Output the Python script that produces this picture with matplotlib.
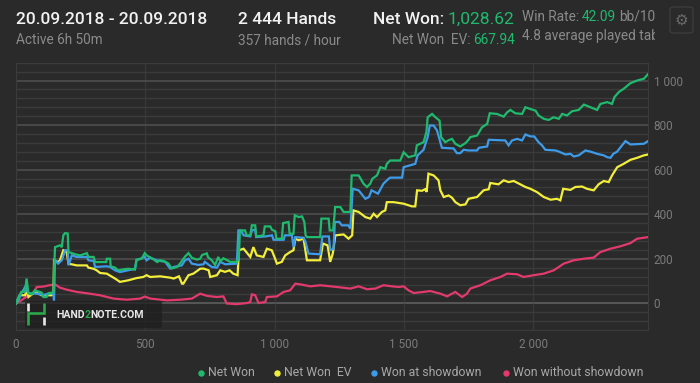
import matplotlib.pyplot as plt
from matplotlib.lines import Line2D
from matplotlib.patches import FancyBboxPatch, Rectangle
from matplotlib.ticker import FuncFormatter, MultipleLocator

# ---- data (hand number, cumulative $) ----
net_won_hands = [0, 10, 20, 35, 41, 48, 60, 73, 99, 106, 118, 125, 138, 145, 147, 151, 170, 177, 183, 190,
                 200, 203, 216, 229, 248, 261, 274, 280, 300, 306, 349, 351, 364, 366, 383, 395, 410, 434, 460,
                 466, 486, 498, 505, 533, 546, 557, 571, 589, 602, 623, 635, 654, 667, 680, 700, 712, 720, 738,
                 742, 757, 770, 782, 790, 802, 828, 855, 862, 866, 886, 892, 906, 912, 925, 929, 957, 962, 983,
                 990, 1003, 1007, 1028, 1033, 1054, 1058, 1073, 1078, 1093, 1106, 1115, 1120, 1125, 1176, 1181,
                 1209, 1213, 1226, 1231, 1234, 1254, 1267, 1293, 1298, 1325, 1344, 1357, 1370, 1378, 1396, 1409,
                 1428, 1434, 1447, 1486, 1499, 1518, 1544, 1550, 1576, 1587, 1592, 1609, 1622, 1638, 1644, 1660,
                 1673, 1686, 1699, 1718, 1738, 1750, 1757, 1783, 1802, 1822, 1832, 1860, 1886, 1899, 1912, 1931,
                 1957, 1970, 1989, 2009, 2021, 2041, 2060, 2079, 2099, 2112, 2131, 2150, 2176, 2196, 2221, 2247,
                 2260, 2286, 2305, 2314, 2331, 2350, 2376, 2402, 2428, 2444]
net_won = [0, 28, 51, 52, 111, 45, 40, 58, 48, 28, 28, 45, 48, 48, 148, 252, 260, 252, 305, 315,
           313, 230, 225, 220, 215, 220, 225, 208, 208, 185, 185, 200, 200, 166, 160, 148, 151, 155, 151,
           196, 200, 225, 215, 196, 185, 193, 190, 179, 156, 163, 179, 210, 225, 204, 196, 200, 217, 224,
           208, 193, 172, 208, 188, 202, 186, 186, 208, 327, 327, 305, 305, 350, 350, 300, 305, 345, 345,
           330, 323, 290, 290, 360, 365, 312, 312, 395, 387, 390, 365, 305, 297, 297, 380,
           380, 327, 327, 387, 432, 432, 410, 410, 574, 574, 537, 522, 537, 559, 574, 611,
           604, 626, 641, 641, 678, 656, 664, 709, 723, 768, 835, 850, 835, 820, 746, 723,
           732, 738, 716, 704, 719, 734, 746, 753, 790, 805, 853, 850, 838, 857, 868, 853,
           850, 880, 872, 865, 843, 828, 823, 835, 828, 850, 843, 862, 868, 892, 880, 868,
           895, 903, 895, 925, 948, 963, 988, 1000, 1008, 1028.62]

net_won_ev_hands = [0, 15, 35, 41, 48, 67, 80, 99, 138, 145, 147, 163, 170, 183, 196, 203, 235, 274, 280,
                    300, 312, 325, 351, 383, 402, 434, 466, 492, 505, 519, 557, 596, 610, 630, 642, 647, 667,
                    686, 712, 725, 745, 751, 777, 790, 808, 826, 840, 857, 862, 880, 906, 918, 931, 957, 970,
                    989, 1002, 1009, 1028, 1041, 1060, 1073, 1080, 1093, 1112, 1125, 1176, 1187, 1205, 1215,
                    1225, 1235, 1267, 1286, 1300, 1305, 1325, 1351, 1370, 1383, 1396, 1415, 1428, 1434, 1460,
                    1499, 1518, 1531, 1544, 1551, 1570, 1582, 1588, 1595, 1615, 1634, 1641, 1654, 1673, 1686,
                    1699, 1718, 1738, 1750, 1783, 1808, 1828, 1834, 1866, 1886, 1905, 1925, 1950, 1970, 1989,
                    2015, 2041, 2067, 2092, 2105, 2116, 2144, 2163, 2189, 2208, 2234, 2253, 2273, 2292, 2305,
                    2325, 2350, 2376, 2402, 2428, 2444]
net_won_ev = [0, 36, 36, 58, 28, 45, 48, 36, 36, 45, 193, 185, 193, 238, 230, 178, 170, 170, 160,
              155, 148, 136, 133, 111, 96, 103, 113, 118, 126, 118, 121, 115, 111, 121, 88, 88, 126,
              133, 155, 156, 148, 118, 126, 148, 141, 148, 133, 126, 238, 245, 208, 252, 215, 208, 245,
              238, 200, 178, 186, 215, 230, 238, 290, 283, 290, 193, 193, 268, 260, 186,
              223, 305, 309, 290, 305, 417, 410, 387, 380, 402, 387, 410, 417, 454, 454,
              447, 440, 435, 435, 507, 505, 512, 500, 582, 574, 552, 507, 477, 484, 474,
              454, 440, 444, 469, 477, 507, 512, 540, 534, 552, 544, 549, 534, 522, 514,
              499, 477, 465, 469, 462, 514, 509, 522, 524, 514, 507, 534, 549, 544, 574,
              611, 626, 644, 653, 664, 667.94]

showdown_hands = [0, 10, 21, 35, 48, 67, 106, 138, 145, 147, 151, 163, 177, 190, 200, 203, 216, 235, 274,
                  280, 300, 306, 351, 364, 383, 402, 460, 466, 498, 505, 519, 544, 577, 596, 610, 641, 654,
                  667, 680, 706, 725, 730, 757, 777, 790, 809, 854, 860, 870, 880, 906, 912, 925, 929, 964,
                  990, 996, 1035, 1040, 1067, 1073, 1080, 1112, 1120, 1131, 1176, 1185, 1210, 1215, 1228,
                  1233, 1250, 1260, 1285, 1293, 1302, 1325, 1351, 1365, 1375, 1400, 1421, 1441, 1447, 1493,
                  1499, 1544, 1553, 1576, 1592, 1600, 1615, 1628, 1641, 1647, 1692, 1705, 1718, 1731, 1750,
                  1783, 1790, 1822, 1828, 1892, 1905, 1918, 1938, 1957, 1970, 1989, 2004, 2021, 2034, 2047,
                  2086, 2099, 2125, 2144, 2157, 2176, 2202, 2221, 2247, 2273, 2286, 2299, 2310, 2325, 2338,
                  2357, 2376, 2428, 2444]
showdown = [0, 15, 45, 73, 45, 45, 38, 45, 40, 13, 193, 178, 193, 238, 238, 170, 215, 208, 208,
            193, 190, 163, 166, 163, 148, 140, 155, 193, 208, 193, 205, 193, 186, 156, 163, 170, 193,
            200, 178, 172, 175, 186, 163, 160, 186, 175, 178, 327, 327, 305, 300, 327, 330, 297, 300,
            305, 285, 285, 305, 305, 252, 297, 294, 275, 223, 220, 300, 300, 238, 245,
            365, 365, 350, 350, 335, 514, 507, 469, 477, 507, 492, 537, 559, 564, 564,
            611, 626, 664, 689, 746, 798, 798, 776, 723, 698, 695, 674, 674, 689, 686,
            686, 698, 704, 734, 731, 709, 731, 738, 731, 758, 749, 749, 723, 709, 689,
            686, 681, 668, 671, 659, 664, 686, 681, 671, 664, 656, 653, 671, 681, 701,
            728, 713, 716, 728]

no_showdown_hands = [0, 20, 48, 67, 80, 106, 125, 151, 170, 196, 235, 274, 325, 377, 428, 480, 498, 520,
                     584, 635, 680, 712, 740, 777, 802, 815, 854, 893, 906, 912, 925, 938, 964, 970, 1009,
                     1035, 1060, 1080, 1099, 1138, 1176, 1241, 1293, 1325, 1357, 1390, 1421, 1454, 1480,
                     1499, 1518, 1538, 1576, 1602, 1641, 1667, 1699, 1725, 1744, 1757, 1796, 1834, 1873,
                     1899, 1938, 1963, 2002, 2041, 2080, 2118, 2157, 2196, 2234, 2260, 2299, 2338, 2376,
                     2402, 2444]
no_showdown = [0, 13, 36, 45, 73, 75, 80, 85, 70, 61, 51, 45, 36, 21, 16, 21, 30, 21,
               13, 16, 21, 43, 33, 28, 31, -1, -4, 1, 6, 40, 36, 1, 6, 28, 31,
               51, 58, 88, 85, 76, 81, 73, 66, 76, 63, 66, 81, 76, 73,
               76, 58, 46, 51, 55, 43, 31, 51, 28, 43, 66, 81, 103, 118,
               133, 130, 118, 126, 133, 148, 178, 193, 200, 205, 230, 245, 256, 270,
               290, 297]

series_names = ["Net Won", "Net Won  EV", "Won at showdown", "Won without showdown"]
series_colors = ["#1fba6e", "#f2ee3a", "#3d9be9", "#e23a6d"]

x_ticks = [0, 500, 1000, 1500, 2000]
y_ticks = [0, 200, 400, 600, 800, 1000]

BG = "#2a2a2a"


def px(x, y):
    return x / 700, 1 - y / 383


def main():
    plt.rcParams["font.family"] = ["Roboto", "DejaVu Sans"]
    fig = plt.figure(figsize=(7, 3.83), dpi=100, facecolor=BG)

    ax = fig.add_axes([16 / 700, 1 - 330 / 383, 632 / 700, 267.3 / 383])
    ax.set_facecolor(BG)

    all_series = [
        (net_won_hands, net_won),
        (net_won_ev_hands, net_won_ev),
        (showdown_hands, showdown),
        (no_showdown_hands, no_showdown),
    ]
    # green on top, pink at the back
    for (h, v), c, z in zip(all_series, series_colors, [6, 4, 5, 3]):
        ax.plot(h, v, color=c, lw=1.6, zorder=z, solid_joinstyle="miter")

    ax.set_xlim(0, 2444)
    ax.set_ylim(-120, 1080)

    ax.yaxis.tick_right()
    ax.set_xticks(x_ticks)
    ax.set_yticks(y_ticks)
    ax.yaxis.set_minor_locator(MultipleLocator(40))
    fmt = FuncFormatter(lambda v, _: f"{int(v):,}".replace(",", " "))
    ax.xaxis.set_major_formatter(fmt)
    ax.yaxis.set_major_formatter(fmt)
    ax.tick_params(axis="both", which="both", length=0, colors="#7a7a7a", labelsize=8.5)
    ax.tick_params(axis="y", pad=4)
    ax.tick_params(axis="x", pad=6)

    ax.grid(axis="y", which="minor", color="#3b3b3b", lw=1.0, zorder=0)
    ax.grid(axis="y", which="major", color="#4e4e4e", lw=1.2, zorder=0)
    ax.grid(axis="x", which="major", color="#383838", lw=1.0, zorder=0)
    ax.axhline(0, color="#8a8a8a", lw=1.2, zorder=1)
    for s in ax.spines.values():
        s.set_color("#3b3b3b")

    # watermark
    logo_box = FancyBboxPatch(px(25, 328), 137 / 700, 27 / 383, boxstyle="round,pad=0,rounding_size=0.004",
                              transform=fig.transFigure, facecolor="#1f1f1f", edgecolor="none", alpha=0.75,
                              zorder=8)
    fig.add_artist(logo_box)
    for xs, ys, c in [([27.5, 27.5], [303, 310.5], "#e8e8e8"),
                      ([28, 28, 44.3, 44.3], [324.5, 313, 313, 303], "#2aa84a"),
                      ([44.3, 44.3], [316.5, 324.5], "#e8e8e8")]:
        fig.add_artist(Line2D([x / 700 for x in xs], [1 - y / 383 for y in ys], color=c, lw=1.9,
                              transform=fig.transFigure, zorder=9, solid_joinstyle="miter",
                              solid_capstyle="butt"))
    x0 = 56
    for part, c in [("HAND", "#e6e6e6"), ("2", "#2aa84a"), ("NOTE.COM", "#e6e6e6")]:
        t = fig.text(*px(x0, 318), part, color=c, fontsize=7.6, fontweight="bold", zorder=9)
        fig.canvas.draw()
        x0 += t.get_window_extent().width

    # header
    def header(x, y, s, color, size, weight="normal"):
        return fig.text(*px(x, y), s, color=color, fontsize=size, fontweight=weight, va="baseline")

    header(16.5, 24, "20.09.2018 - 20.09.2018", "#f2f2f2", 12.5, "medium")
    header(16.5, 44.3, "Active 6h 50m", "#8a8a8a", 9.8)
    header(238, 24, "2 444 Hands", "#f2f2f2", 12.5, "medium")
    header(238, 44.3, "357 hands / hour", "#8a8a8a", 9.8)
    header(373, 24, "Net Won:", "#f2f2f2", 12.5, "medium")
    header(448, 24, "1,028.62", "#1fba6e", 12.5)
    header(392, 44.3, "Net Won  EV:", "#8a8a8a", 9.8)
    header(473, 44.3, "667.94", "#1fba6e", 9.8)
    header(522, 20.7, "Win Rate:", "#8a8a8a", 9.8)
    header(582, 20.7, "42.09", "#1fba6e", 9.8)
    header(619, 20.7, "bb/100", "#8a8a8a", 9.8)
    header(522, 40, "4.8 average played tables", "#8a8a8a", 9.8)
    fig.add_artist(Rectangle(px(655, 50), 45 / 700, 50 / 383, transform=fig.transFigure,
                             facecolor=BG, edgecolor="none", zorder=10))
    gear = FancyBboxPatch(px(670, 33), 23 / 700, 26 / 383, boxstyle="round,pad=0,rounding_size=0.006",
                          transform=fig.transFigure, facecolor=BG, edgecolor="#3c3c3c", lw=1, zorder=11)
    fig.add_artist(gear)
    fig.text(*px(681.5, 20.5), "\u2699", color="#6a6a6a", fontsize=11, ha="center", va="center",
             family="DejaVu Sans", zorder=12)

    # legend
    legend_x = [201, 277, 374, 506]
    for name, c, lx in zip(series_names, series_colors, legend_x):
        fig.add_artist(Line2D([lx / 700], [1 - 372.5 / 383], marker="o", ms=3.6, color=c, lw=0,
                              transform=fig.transFigure))
        fig.text(*px(lx + 7, 372.5), name, color="#a8a8a8", fontsize=8.8, va="center")

    fig.savefig("out.png", dpi=100, facecolor=BG)


if __name__ == "__main__":
    main()
